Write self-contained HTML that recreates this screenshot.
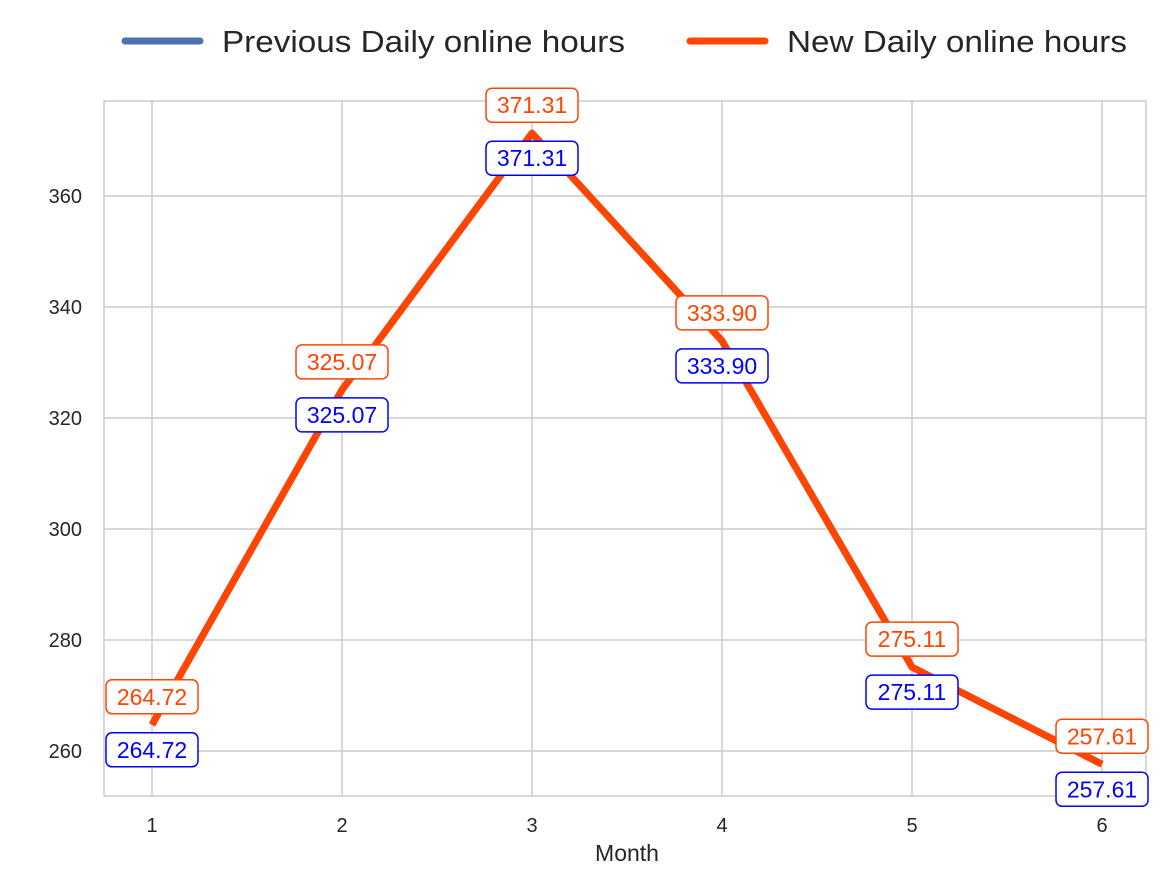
<!DOCTYPE html>
<html><head><meta charset="utf-8"><style>
body{margin:0;background:#fff;}
svg{display:block;font-family:"Liberation Sans","DejaVu Sans",sans-serif;}
</style></head><body>
<svg id="chart" width="1165" height="881">
<g id="grid"></g>
<rect x="104" y="101" width="1042" height="695" fill="none" stroke="#ccc" stroke-width="1.5"/>
<g id="series"></g>
<g id="labels"></g>
<g id="ticks"></g>
<text x="627" y="861" text-anchor="middle" font-size="23" fill="#262626">Month</text>
<g>
<g>
<line x1="125" y1="41" x2="200" y2="41" stroke="#4C72B0" stroke-width="7" stroke-linecap="round"/>
<text x="222" y="52" font-size="31" fill="#262626" textLength="403" lengthAdjust="spacingAndGlyphs">Previous Daily online hours</text></g>
<g>
<line x1="690" y1="41" x2="765" y2="41" stroke="#FF4500" stroke-width="7" stroke-linecap="round"/>
<text x="787" y="52" font-size="31" fill="#262626" textLength="340" lengthAdjust="spacingAndGlyphs">New Daily online hours</text></g>
</g>
</svg>
<script>
const months=[1,2,3,4,5,6];
const previousValues=[264.72,325.07,371.31,333.90,275.11,257.61];
const newValues=[264.72,325.07,371.31,333.90,275.11,257.61];
const yTicks=[260,280,300,320,340,360];
const NS="http://www.w3.org/2000/svg";
function xs(m){return 152+(m-1)*190;}
function ys(v){return 751-(v-260)*5.55;}
function mk(t,a,p){const e=document.createElementNS(NS,t);for(const k in a)e.setAttribute(k,a[k]);p.appendChild(e);return e;}
const grid=document.getElementById('grid'),ticks=document.getElementById('ticks'),series=document.getElementById('series'),labels=document.getElementById('labels');
months.forEach(m=>{
 const l=mk('line',{x1:xs(m),x2:xs(m),y1:101,y2:796,stroke:'#ccc','stroke-width':1.5},grid);
 
 
 const t=mk('text',{x:xs(m),y:832,'text-anchor':'middle','font-size':20,fill:'#262626'},ticks);t.textContent=m;
 
 
});
yTicks.forEach(v=>{
 const l=mk('line',{x1:104,x2:1146,y1:ys(v),y2:ys(v),stroke:'#ccc','stroke-width':1.5},grid);
 
 
 const t=mk('text',{x:82,y:ys(v)+7,'text-anchor':'end','font-size':20,fill:'#262626'},ticks);t.textContent=v;
 
 
});
function drawLine(vals,color,name){
 const p=mk('polyline',{points:vals.map((v,i)=>xs(months[i])+','+ys(v)).join(' '),fill:'none',stroke:color,'stroke-width':7,'stroke-linejoin':'round'},series);
 
 
}
drawLine(previousValues,'#4C72B0','previous-line');
drawLine(newValues,'#FF4500','new-line');
function label(x,y,v,color,name){
 const g=mk('g',{},labels);
 
 
 mk('rect',{x:x-46,y:y-17,width:92,height:34,rx:6,fill:'#fff',stroke:color,'stroke-width':1.5},g);
 const t=mk('text',{x:x,y:y+8,'text-anchor':'middle','font-size':23,fill:color},g);t.textContent=v.toFixed(2);
}
months.forEach((m,i)=>{
 label(xs(m),ys(previousValues[i])+25,previousValues[i],'#0000FF','previous-value-label');
 label(xs(m),ys(newValues[i])-28,newValues[i],'#FF4500','new-value-label');
});
</script>
</body></html>
